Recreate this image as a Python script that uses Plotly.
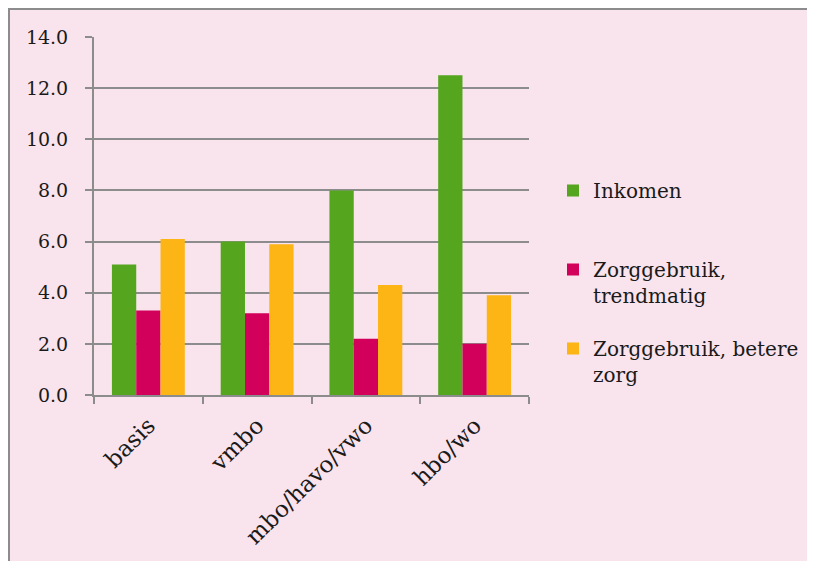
import plotly.graph_objects as go

categories = ["basis", "vmbo", "mbo/havo/vwo", "hbo/wo"]
series_names = ["Inkomen<br> ", "Zorggebruik,<br>trendmatig", "Zorggebruik, betere<br>zorg"]
inkomen = [5.1, 6.0, 8.0, 12.5]
trendmatig = [3.3, 3.2, 2.2, 2.0]
betere_zorg = [6.1, 5.9, 4.3, 3.9]
colors = ["#55A51E", "#D2005A", "#FDB515"]
y_ticks = [0, 2, 4, 6, 8, 10, 12, 14]

# page is offset by 8px (body margin); figure coordinates below
OFF = 8
W, H = 815 - OFF, 561 - OFF
L, R, T, B = 94 - OFF, 529 - OFF, 37 - OFF, 395 - OFF

fig = go.Figure()
for i, (name, vals) in enumerate(zip(series_names, [inkomen, trendmatig, betere_zorg])):
    fig.add_trace(go.Bar(x=categories, y=vals, name=name, marker_color=colors[i],
                         marker_line_width=0, legendgroup=str(i)))

pw, ph = R - L, B - T
def px2x(p):
    return (p - L) / pw
def px2y(p):
    return (B - p) / ph

font = "DejaVu Serif"
fig.update_layout(
    width=W, height=H,
    margin=dict(l=L, r=W - R, t=T, b=H - B, autoexpand=False),
    paper_bgcolor="#F9E3EC",
    plot_bgcolor="rgba(0,0,0,0)",
    barmode="group", bargap=0.33, bargroupgap=0,
    font=dict(family=font, color="#1a1a1a", size=19),
    showlegend=True,
    legend=dict(x=px2x(545), xanchor="left", y=px2y(163), yanchor="top",
                font=dict(size=20, family=font), valign="top",
                traceorder="grouped", tracegroupgap=24,
                bgcolor="rgba(0,0,0,0)", itemclick=False),
    xaxis=dict(showgrid=False, showline=True, linecolor="#8c8c8c", linewidth=2,
               ticks="outside", tickson="boundaries", ticklen=7, tickcolor="#8c8c8c",
               tickwidth=2, tickangle=-45, tickfont=dict(size=23), ticklabelstandoff=6),
    yaxis=dict(range=[0, 14], tickvals=y_ticks, ticktext=[f"{v:.1f}" for v in y_ticks],
               showgrid=True, gridcolor="#8c8c8c", gridwidth=2,
               showline=True, linecolor="#8c8c8c", linewidth=2,
               ticks="outside", ticklen=7, tickcolor="#8c8c8c", tickwidth=2,
               zeroline=False, tickfont=dict(size=19), ticklabelstandoff=13),
    shapes=[
        dict(type="line", xref="paper", yref="paper", x0=px2x(0), x1=px2x(W + 5),
             y0=px2y(1), y1=px2y(1), line=dict(color="#8c8c8c", width=2), layer="below"),
        dict(type="line", xref="paper", yref="paper", x0=px2x(1), x1=px2x(1),
             y0=px2y(0), y1=px2y(H + 5), line=dict(color="#8c8c8c", width=2), layer="below"),
    ],
)
fig.write_html("out.html")
